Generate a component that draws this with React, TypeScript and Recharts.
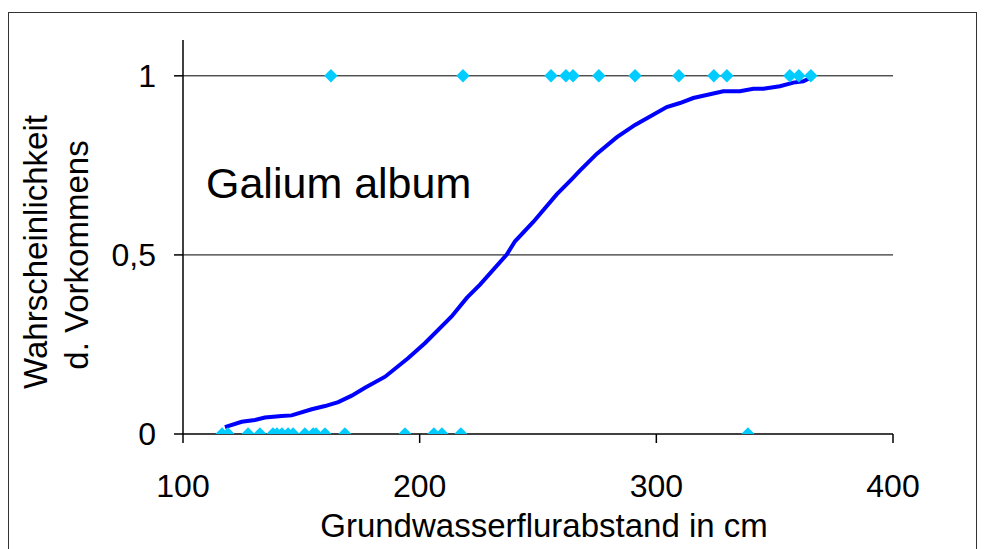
import React from 'react';
import { ComposedChart, XAxis, YAxis, ReferenceLine, Scatter, Line, Label } from 'recharts';

const FONT = "'Liberation Sans', Arial, Helvetica, sans-serif";

// Observed occurrences (value 1) and absences (value 0), x = Grundwasserflurabstand in cm
const presentX = [162.5, 218.3, 255.5, 261.8, 264.8, 275.7, 291, 309.5, 324.3, 329.8, 356.4, 360.2, 365.3];
const absentX = [116.5, 119, 127.5, 132.5, 138, 139.7, 141.8, 144.4, 146.5, 151.5, 155, 156.2, 160, 168.4, 193.8, 206, 209.4, 217.4, 338.7];

// Fitted probability curve
const curveX = [117.7, 124.8, 130.4, 134.6, 141.7, 145.9, 154.4, 160, 165.6, 171.3, 176.9, 185.4, 195.2, 202.3, 213.5, 219.9, 225.5, 236.8, 240.3, 248, 257.9, 264.2, 267.7, 274.8, 283.2, 291, 304.4, 310, 315.6, 328.3, 335.3, 341, 345.2, 352.2, 357.9, 362.1, 365];
const curveY = [0.019, 0.034, 0.039, 0.046, 0.05, 0.052, 0.069, 0.078, 0.089, 0.107, 0.129, 0.16, 0.212, 0.254, 0.328, 0.38, 0.417, 0.501, 0.538, 0.592, 0.669, 0.711, 0.735, 0.782, 0.828, 0.863, 0.913, 0.924, 0.938, 0.957, 0.957, 0.964, 0.964, 0.971, 0.981, 0.985, 0.994];

const xTicks = [100, 200, 300, 400];
const yTicks = [0, 0.5, 1];
const gridValues = [0.5, 1];

const pointData = [
  ...presentX.map((x) => ({ x, y: 1 })),
  ...absentX.map((x) => ({ x, y: 0 })),
];
const curveData = curveX.map((x, i) => ({ x, y: curveY[i] }));

const Diamond = (props: any) => {
  const { cx, cy } = props;
  if (cx == null || cy == null) return null;
  const r = 6.7;
  return (
    <polygon
      points={`${cx},${cy - r} ${cx + r},${cy} ${cx},${cy + r} ${cx - r},${cy}`}
      fill="#00ccff"
    />
  );
};

const YTitle = (props: any) => {
  const vb = props.viewBox || { x: 0, y: 40, width: 183, height: 394 };
  const cy = vb.y + vb.height / 2 + 15;
  const x1 = vb.x + 47;
  const x2 = vb.x + 88;
  return (
    <g>
      <text x={x1} y={cy} transform={`rotate(-90 ${x1} ${cy})`} textAnchor="middle" fontFamily={FONT} fontSize={33} fill="#000">
        Wahrscheinlichkeit
      </text>
      <text x={x2} y={cy + 3} transform={`rotate(-90 ${x2} ${cy + 3})`} textAnchor="middle" fontFamily={FONT} fontSize={33} fill="#000">
        d. Vorkommens
      </text>
    </g>
  );
};

const XTitle = (props: any) => {
  const vb = props.viewBox || { x: 183, y: 434, width: 710, height: 115 };
  const cx = vb.x + vb.width / 2 + 6;
  return (
    <text x={cx} y={vb.y + 103} textAnchor="middle" fontFamily={FONT} fontSize={33} fill="#000">
      Grundwasserflurabstand in cm
    </text>
  );
};

export default function App() {
  return (
    <div style={{ position: 'absolute', left: 0, top: 0, width: 984, height: 549, background: '#fff', overflow: 'hidden' }}>
      <div
        style={{
          position: 'absolute',
          left: 8,
          top: 12,
          width: 969,
          height: 600,
          border: '1.5px solid #333',
          boxSizing: 'border-box',
        }}
      />
      <ComposedChart
        width={984}
        height={549}
        margin={{ top: 40, right: 91, bottom: 0, left: 0 }}
        style={{ position: 'absolute', left: 0, top: 0 }}
      >
        <XAxis
          type="number"
          dataKey="x"
          domain={[100, 400]}
          ticks={xTicks}
          height={115}
          tickSize={9}
          tickMargin={31}
          axisLine={{ stroke: '#000', strokeWidth: 1.5 }}
          tickLine={{ stroke: '#000', strokeWidth: 1.5 }}
          tick={{ fontSize: 32, fill: '#000', fontFamily: FONT }}
          allowDataOverflow
        >
          <Label content={<XTitle />} />
        </XAxis>
        <YAxis
          type="number"
          dataKey="y"
          domain={[0, 1.1]}
          ticks={yTicks}
          width={183}
          tickSize={9}
          tickMargin={18}
          axisLine={{ stroke: '#000', strokeWidth: 1.5 }}
          tickLine={{ stroke: '#000', strokeWidth: 1.5 }}
          tick={{ fontSize: 32, fill: '#000', fontFamily: FONT }}
          tickFormatter={(v: number) => String(v).replace('.', ',')}
          allowDataOverflow
        >
          <Label content={<YTitle />} />
        </YAxis>
        {gridValues.map((v) => (
          <ReferenceLine key={v} y={v} stroke="#000" strokeWidth={1} />
        ))}
        <Scatter data={pointData} dataKey="y" shape={<Diamond />} isAnimationActive={false} />
        <Line
          data={curveData}
          dataKey="y"
          type="linear"
          stroke="#0000ff"
          strokeWidth={4}
          dot={false}
          activeDot={false}
          isAnimationActive={false}
        />
      </ComposedChart>
      <div
        style={{
          position: 'absolute',
          left: 206,
          top: 159,
          fontFamily: FONT,
          fontSize: 43,
          lineHeight: '48px',
          color: '#000',
          whiteSpace: 'nowrap',
        }}
      >
        Galium album
      </div>
    </div>
  );
}
